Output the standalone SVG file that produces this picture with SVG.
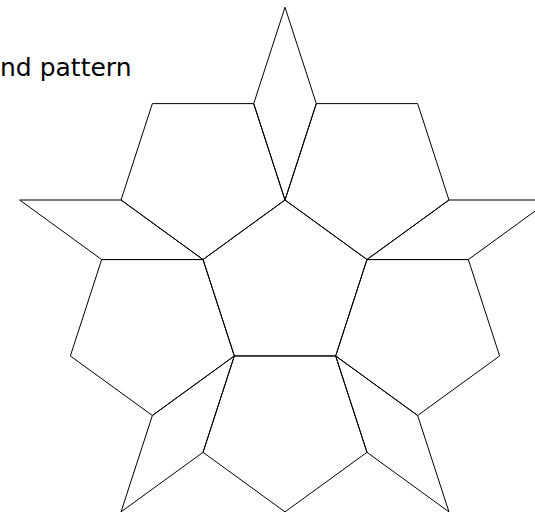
<svg xmlns="http://www.w3.org/2000/svg" width="535" height="514" viewBox="0 0 535 514">
  <style>
    .tile { fill: none; stroke: #000; stroke-width: 1; stroke-linejoin: miter; }
    .title { font-family: "DejaVu Sans", Verdana, sans-serif; font-size: 25px; fill: #000; }
  </style>
  <rect width="535" height="514" fill="#fff"/>
  <text class="title" x="0" y="75.5">nd pattern</text>
  <g id="central-pentagon">
    <polygon class="tile" points="285,200 366.98,259.56 335.67,355.94 234.33,355.94 203.02,259.56"/>
  </g>
  <g id="pentagon-upper-right">
    <polygon class="tile" points="285,200 316.31,103.62 417.65,103.62 448.96,200 366.98,259.56"/>
  </g>
  <g id="pentagon-right">
    <polygon class="tile" points="366.98,259.56 468.32,259.56 499.63,355.94 417.65,415.5 335.67,355.94"/>
  </g>
  <g id="pentagon-bottom">
    <polygon class="tile" points="335.67,355.94 366.98,452.32 285,511.88 203.02,452.32 234.33,355.94"/>
  </g>
  <g id="pentagon-left">
    <polygon class="tile" points="234.33,355.94 152.35,415.5 70.37,355.94 101.68,259.56 203.02,259.56"/>
  </g>
  <g id="pentagon-upper-left">
    <polygon class="tile" points="203.02,259.56 121.04,200 152.35,103.62 253.69,103.62 285,200"/>
  </g>
  <g id="rhombus-top">
    <polygon class="tile" points="285,200 253.69,103.62 285,7.24 316.31,103.62"/>
  </g>
  <g id="rhombus-right">
    <polygon class="tile" points="366.98,259.56 448.96,200 550.3,200 468.32,259.56"/>
  </g>
  <g id="rhombus-lower-right">
    <polygon class="tile" points="335.67,355.94 417.65,415.5 448.96,511.88 366.98,452.32"/>
  </g>
  <g id="rhombus-lower-left">
    <polygon class="tile" points="234.33,355.94 203.02,452.32 121.04,511.88 152.35,415.5"/>
  </g>
  <g id="rhombus-left">
    <polygon class="tile" points="203.02,259.56 101.68,259.56 19.7,200 121.04,200"/>
  </g>
  <g id="connectors"/>
</svg>
